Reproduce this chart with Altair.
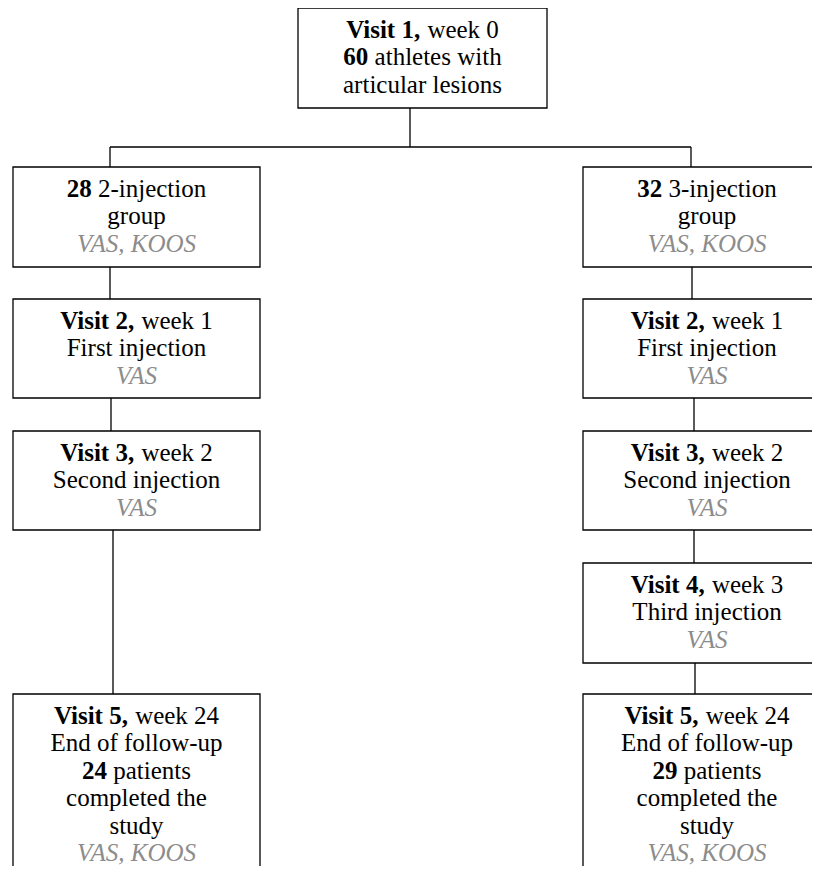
import altair as alt
import pandas as pd

# ---------------- content (text of each box, one entry per line) ----------------
# "**x**" = bold lead, "_x_" = grey italic measure line
visit1_lines = ["**Visit 1,** week 0", "**60** athletes with", "articular lesions"]
group2_lines = ["**28** 2-injection", "group", "_VAS, KOOS_"]
group3_lines = ["**32** 3-injection", "group", "_VAS, KOOS_"]
left_v2_lines = ["**Visit 2,** week 1", "First injection", "_VAS_"]
left_v3_lines = ["**Visit 3,** week 2", "Second injection", "_VAS_"]
left_v5_lines = ["**Visit 5,** week 24", "End of follow-up", "**24** patients",
                 "completed the", "study", "_VAS, KOOS_"]
right_v2_lines = ["**Visit 2,** week 1", "First injection", "_VAS_"]
right_v3_lines = ["**Visit 3,** week 2", "Second injection", "_VAS_"]
right_v4_lines = ["**Visit 4,** week 3", "Third injection", "_VAS_"]
right_v5_lines = ["**Visit 5,** week 24", "End of follow-up", "**29** patients",
                  "completed the", "study", "_VAS, KOOS_"]

box_texts = [visit1_lines, group2_lines, group3_lines, left_v2_lines, left_v3_lines,
             left_v5_lines, right_v2_lines, right_v3_lines, right_v4_lines, right_v5_lines]

# ---------------- layout (pixel geometry of the diagram) ----------------
box_x0 = [298, 13, 583, 13, 13, 13, 583, 583, 583, 583]
box_x1 = [547, 260, 831, 260, 260, 260, 831, 831, 831, 831]
box_y0 = [8, 167, 167, 299, 431, 694, 299, 431, 563, 694]
box_y1 = [108, 267, 267, 398, 530, 900, 398, 530, 663, 900]

conn_x0 = [410, 110, 110, 691, 110, 111, 113, 692, 694, 694, 695]
conn_x1 = [410, 691, 110, 691, 110, 111, 113, 692, 694, 694, 695]
conn_y0 = [108, 147, 147, 147, 267, 398, 530, 267, 398, 530, 663]
conn_y1 = [147, 147, 167, 167, 299, 431, 694, 299, 431, 563, 694]

FONT = "Liberation Serif, Times New Roman, serif"
SIZE = 25
LINE_H = 27.4
FIRST_BASE = 30
GREY = "#8c8c8c"
STROKE = 1.3

# Times-metric advance widths (per 1000 em)
REG_W = {" ": 250, ",": 250, "-": 333, "a": 444, "c": 444, "e": 444, "h": 500, "i": 278,
         "j": 278, "k": 500, "l": 278, "n": 500, "o": 500, "p": 500, "s": 389, "t": 278,
         "w": 722}
BOLD_W = {" ": 250, ",": 250, "V": 722, "i": 278, "s": 389, "t": 333}
for d in "0123456789":
    REG_W[d] = 500
    BOLD_W[d] = 500


def tw(s, table):
    return sum(table.get(c, 500) for c in s) / 1000.0 * SIZE


bold_rows, after_rows, center_rows, grey_rows = [], [], [], []
for lines, x0, x1, y0 in zip(box_texts, box_x0, box_x1, box_y0):
    cx = (x0 + x1) / 2.0
    for i, line in enumerate(lines):
        y = y0 + FIRST_BASE + LINE_H * i
        if line.startswith("**"):
            end = line.index("**", 2)
            b = line[2:end]
            r = line[end + 2:].strip()
            wb = tw(b, BOLD_W)
            ws = tw(" ", REG_W)
            wr = tw(r, REG_W)
            start = cx - (wb + ws + wr) / 2.0
            bold_rows.append({"x": start, "y": y, "text": b})
            after_rows.append({"x": start + wb + ws, "y": y, "text": r})
        elif line.startswith("_"):
            grey_rows.append({"x": cx, "y": y, "text": line.strip("_")})
        else:
            center_rows.append({"x": cx, "y": y, "text": line})

boxes_df = pd.DataFrame({"x": box_x0, "x2": box_x1, "y": box_y0, "y2": box_y1})
conn_df = pd.DataFrame({"x": conn_x0, "x2": conn_x1, "y": conn_y0, "y2": conn_y1})

xs = alt.Scale(domain=[8, 812], nice=False, zero=False)
ys = alt.Scale(domain=[8, 866], nice=False, zero=False, reverse=True)

X = alt.X("x:Q", scale=xs, axis=None)
Y = alt.Y("y:Q", scale=ys, axis=None)

rules = alt.Chart(conn_df).mark_rule(color="black", strokeWidth=STROKE).encode(
    x=X, x2="x2:Q", y=Y, y2="y2:Q")

boxes = alt.Chart(boxes_df).mark_rect(fill="white", stroke="black", strokeWidth=STROKE,
                                      clip=True).encode(x=X, x2="x2:Q", y=Y, y2="y2:Q")

bold_t = alt.Chart(pd.DataFrame(bold_rows)).mark_text(
    font=FONT, fontSize=SIZE, fontWeight="bold", align="left", baseline="alphabetic",
    color="black").encode(x=X, y=Y, text="text:N")

after_t = alt.Chart(pd.DataFrame(after_rows)).mark_text(
    font=FONT, fontSize=SIZE, align="left", baseline="alphabetic",
    color="black").encode(x=X, y=Y, text="text:N")

center_t = alt.Chart(pd.DataFrame(center_rows)).mark_text(
    font=FONT, fontSize=SIZE, align="center", baseline="alphabetic",
    color="black").encode(x=X, y=Y, text="text:N")

grey_t = alt.Chart(pd.DataFrame(grey_rows)).mark_text(
    font=FONT, fontSize=SIZE, fontStyle="italic", align="center", baseline="alphabetic",
    color=GREY).encode(x=X, y=Y, text="text:N")

chart = alt.layer(rules, boxes, bold_t, after_t, center_t, grey_t).properties(
    width=804, height=858, padding=0,
    autosize=alt.AutoSizeParams(type="none"),
    background="white",
).configure_view(stroke=None)

chart.save("out.html", embed_options={"renderer": "svg", "actions": False})
